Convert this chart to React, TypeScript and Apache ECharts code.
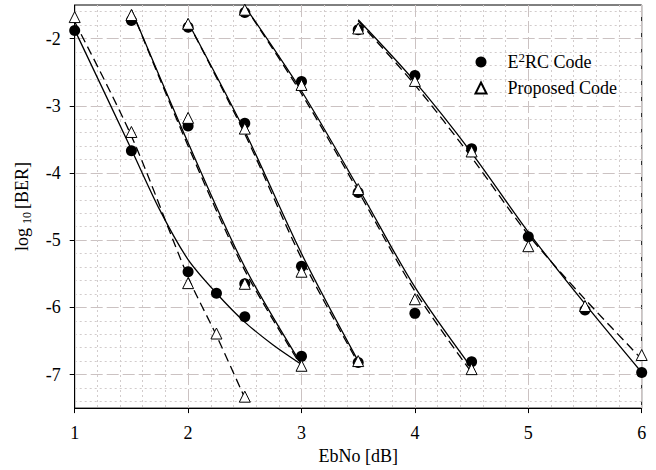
import React, { useEffect, useRef } from 'react';
import * as echarts from 'echarts';

const FONT = "'Liberation Serif', 'Times New Roman', serif";

// Axis ticks
const xTicks = [1, 2, 3, 4, 5, 6];
const yTicks = [-7, -6, -5, -4, -3, -2];

// Measured points (EbNo [dB], log10 BER)
const e2rcEbNo = [1, 1.5, 2, 2.25, 2.5, 1.5, 2, 2.5, 3, 2, 2.5, 3, 3.5, 2.5, 3, 3.5, 4, 4.5, 3.5, 4, 4.5, 5, 5.5, 6];
const e2rcLogBer = [-1.88, -3.67, -5.47, -5.79, -6.14, -1.73, -3.3, -5.65, -6.73, -1.83, -3.26, -5.39, -6.82, -1.61, -2.64, -4.29, -6.09, -6.81, -1.87, -2.55, -3.64, -4.95, -6.04, -6.97];
const propEbNo = [1, 1.5, 2, 2.25, 2.5, 1.5, 2, 2.5, 3, 2, 2.5, 3, 3.5, 2.5, 3, 3.5, 4, 4.5, 3.5, 4, 4.5, 5, 5.5, 6];
const propLogBer = [-1.68, -3.39, -5.64, -6.39, -7.33, -1.65, -3.18, -5.65, -6.87, -1.78, -3.34, -5.47, -6.8, -1.57, -2.69, -4.24, -5.88, -6.92, -1.85, -2.63, -3.68, -5.09, -5.98, -6.71];

// Fitted curves (solid = E2RC, dashed = Proposed)
const e2rcFit1 = [[1, -1.87], [1.5, -3.65], [1.75, -4.55], [2, -5.29], [2.25, -5.79], [2.5, -6.22], [2.75, -6.56], [3, -6.85]];
const propFit1 = [[1, -1.75], [1.5, -3.45], [2, -5.55], [2.25, -6.42], [2.5, -7.35]];
const e2rcFit2 = [[1.5, -1.57], [2, -3.55], [2.5, -5.4], [3, -6.85]];
const propFit2 = [[1.5, -1.57], [2, -3.6], [2.5, -5.45], [3, -6.88]];
const e2rcFit3 = [[2, -1.76], [2.5, -3.38], [3, -5.2], [3.5, -6.8]];
const propFit3 = [[2, -1.76], [2.5, -3.42], [3, -5.27], [3.5, -6.83]];
const e2rcFit4 = [[2.5, -1.52], [3, -2.78], [3.5, -4.22], [4, -5.7], [4.5, -6.9]];
const propFit4 = [[2.5, -1.52], [3, -2.82], [3.5, -4.27], [4, -5.76], [4.5, -6.97]];
const e2rcFit5 = [[3.5, -1.72], [4, -2.64], [4.5, -3.7], [5, -4.88], [5.5, -5.95], [6, -6.97]];
const propFit5 = [[3.5, -1.74], [4, -2.69], [4.5, -3.77], [5, -4.92], [5.5, -5.88], [6, -6.77]];

const E2RC_NAME = 'E2RC Code';
const PROP_NAME = 'Proposed Code';

export default function App() {
  const ref = useRef<HTMLDivElement>(null);
  useEffect(() => {
    document.body.style.margin = '0';
    if (!ref.current) return;
    const chart = echarts.init(ref.current, undefined, { renderer: 'svg' });
    const majorColor = '#cbc2c2';
    const minorColor = '#d2cccc';
    const fitLine = (name: string, data: number[][], dashed: boolean) => ({
      name,
      type: 'line',
      data,
      symbol: 'none',
      showSymbol: false,
      smooth: 0.3,
      silent: true,
      z: 2,
      lineStyle: { color: '#000', width: 1.3, type: dashed ? [9, 5] : 'solid' },
    });
    const option: any = {
      animation: false,
      textStyle: { fontFamily: FONT },
      grid: {
        left: 74.7,
        right: 14.3,
        top: 5,
        bottom: 56.7,
        show: true,
        borderColor: '#000',
        borderWidth: 1,
        backgroundColor: 'transparent',
      },
      legend: {
        orient: 'vertical',
        left: 469.5,
        top: 46,
        itemWidth: 11,
        itemHeight: 11,
        itemGap: 8,
        data: [E2RC_NAME, PROP_NAME],
        formatter: (name: string) =>
          name === E2RC_NAME ? '{a|E}{sup|2}{a|RC Code}' : '{a|Proposed Code}',
        textStyle: {
          fontFamily: FONT,
          fontSize: 18,
          color: '#000',
          padding: [0, 0, 0, 16],
          rich: {
            a: { fontFamily: FONT, fontSize: 18, color: '#000', lineHeight: 20 },
            sup: { fontFamily: FONT, fontSize: 13, color: '#000', padding: [0, 0, 9, 0] },
          },
        },
      },
      xAxis: {
        type: 'value',
        min: 1,
        max: 6,
        interval: 1,
        name: 'EbNo [dB]',
        nameLocation: 'middle',
        nameGap: 34,
        nameTextStyle: { fontFamily: FONT, fontSize: 18, color: '#000' },
        axisLine: { show: true, onZero: false, lineStyle: { color: '#000', width: 1 } },
        axisTick: { show: true, inside: false, length: 5, lineStyle: { color: '#000' } },
        axisLabel: {
          margin: 16,
          fontFamily: FONT,
          fontSize: 18,
          color: '#000',
          formatter: (v: number) => (xTicks.includes(v) ? String(v) : ''),
        },
        splitLine: { show: true, lineStyle: { color: majorColor, width: 1, type: [12, 4] } },
        minorTick: { show: false, splitNumber: 5 },
        minorSplitLine: { show: true, lineStyle: { color: minorColor, width: 1, type: [2, 3] } },
      },
      yAxis: {
        type: 'value',
        min: -7.5,
        max: -1.5,
        splitNumber: 6,
        name: '{a|log}{sub|10}{a|[BER]}',
        nameLocation: 'middle',
        nameGap: 42,
        nameRotate: 90,
        nameTextStyle: {
          fontFamily: FONT,
          fontSize: 18,
          color: '#000',
          rich: {
            a: { fontFamily: FONT, fontSize: 18, color: '#000', lineHeight: 20 },
            sub: { fontFamily: FONT, fontSize: 12, color: '#000', padding: [9, 3, 0, 4] },
          },
        },
        axisLine: { show: true, onZero: false, lineStyle: { color: '#000', width: 1 } },
        axisTick: {
          show: true,
          inside: false,
          length: 5,
          lineStyle: { color: '#000' },
          customValues: yTicks,
        },
        axisLabel: {
          margin: 14,
          fontFamily: FONT,
          fontSize: 18,
          color: '#000',
          customValues: yTicks,
          formatter: (v: number) => (yTicks.includes(v) ? String(v) : ''),
        },
        splitLine: { show: true, lineStyle: { color: majorColor, width: 1, type: [12, 4] } },
        minorTick: { show: false, splitNumber: 5 },
        minorSplitLine: { show: true, lineStyle: { color: minorColor, width: 1, type: [2, 3] } },
      },
      series: [
        fitLine('E2RC fit 1', e2rcFit1, false),
        fitLine('Proposed fit 1', propFit1, true),
        fitLine('E2RC fit 2', e2rcFit2, false),
        fitLine('Proposed fit 2', propFit2, true),
        fitLine('E2RC fit 3', e2rcFit3, false),
        fitLine('Proposed fit 3', propFit3, true),
        fitLine('E2RC fit 4', e2rcFit4, false),
        fitLine('Proposed fit 4', propFit4, true),
        fitLine('E2RC fit 5', e2rcFit5, false),
        fitLine('Proposed fit 5', propFit5, true),
        {
          name: E2RC_NAME,
          type: 'scatter',
          symbol: 'circle',
          symbolSize: 11,
          clip: false,
          z: 3,
          itemStyle: { color: '#000', opacity: 1 },
          data: e2rcEbNo.map((x, i) => [x, e2rcLogBer[i]]),
        },
        {
          name: PROP_NAME,
          type: 'scatter',
          symbol: 'triangle',
          symbolSize: 11,
          clip: false,
          z: 4,
          itemStyle: { color: '#fff', borderColor: '#000', borderWidth: 1, opacity: 1 },
          data: propEbNo.map((x, i) => [x, propLogBer[i]]),
        },
      ],
    };
    chart.setOption(option);
    return () => chart.dispose();
  }, []);
  return <div ref={ref} style={{ width: 656, height: 470 }} />;
}
